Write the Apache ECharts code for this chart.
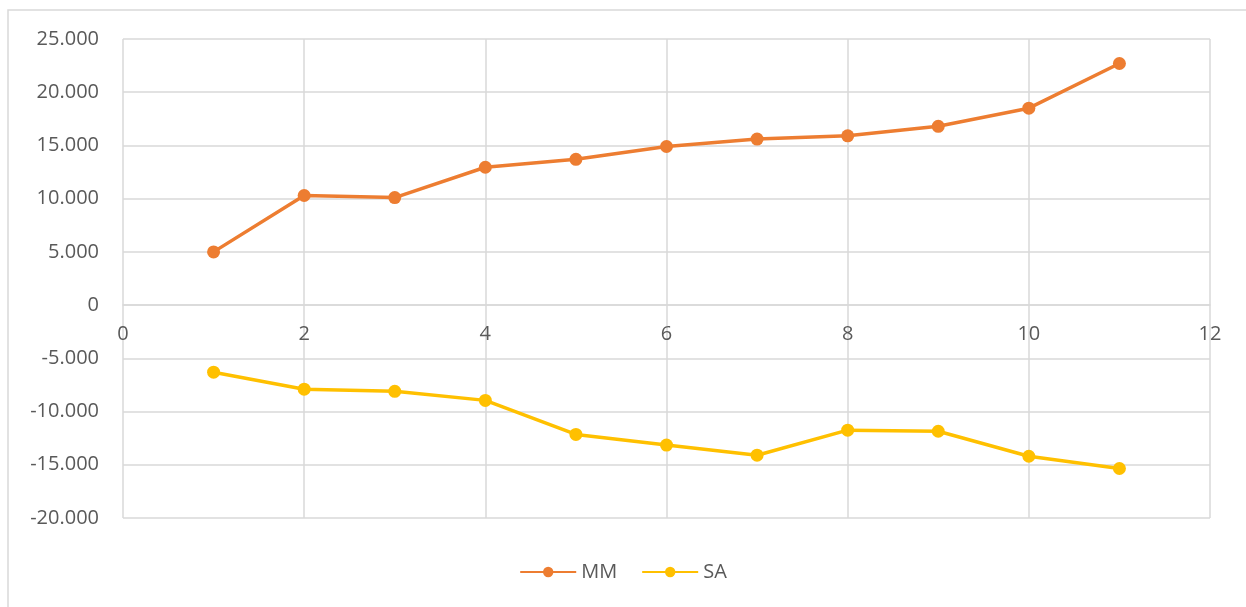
<!DOCTYPE html>
<html>
<head>
<meta charset="utf-8">
<style>
  html, body { margin: 0; padding: 0; background: #ffffff; }
  #chart { width: 1246px; height: 607px; }
</style>
<script src="https://cdn.jsdelivr.net/npm/echarts@6/dist/echarts.min.js"></script>
</head>
<body>
<div id="chart"></div>
<script>
// Period index (x) and the two series values
const periods = [1, 2, 3, 4, 5, 6, 7, 8, 9, 10, 11];
const mmValues = [5000, 10300, 10100, 12950, 13700, 14900, 15600, 15900, 16800, 18500, 22700];
const saValues = [-6300, -7900, -8100, -8950, -12150, -13150, -14100, -11750, -11850, -14200, -15350];
const seriesNames = ['MM', 'SA'];

const Y_MIN = -20000;
const chart = echarts.init(document.getElementById('chart'), null, { renderer: 'canvas' });

function thousands(v) {
  const s = Math.abs(v).toString().replace(/\B(?=(\d{3})+(?!\d))/g, '.');
  return (v < 0 ? '-' : '') + s;
}

const labelStyle = { color: '#595959', fontSize: 20, fontFamily: 'Open Sans, sans-serif' };
const gridLine = { lineStyle: { color: '#d9d9d9', width: 1.5 } };

chart.setOption({
  animation: false,
  backgroundColor: '#ffffff',
  graphic: [
    {
      type: 'rect',
      shape: { x: 8, y: 10, width: 1300, height: 700 },
      style: { fill: 'none', stroke: '#d9d9d9', lineWidth: 1.5 },
      silent: true
    }
  ],
  grid: { left: 123, right: 36, top: 39, bottom: 89, containLabel: false },
  legend: {
    data: seriesNames,
    bottom: 20,
    left: 'center',
    itemWidth: 56,
    itemHeight: 13,
    itemGap: 24,
    textStyle: { color: '#595959', fontSize: 20, fontFamily: 'Open Sans, sans-serif' }
  },
  xAxis: {
    type: 'value',
    min: 0,
    max: 12,
    interval: 2,
    position: 'bottom',
    axisLine: { show: true, onZero: false, lineStyle: { color: '#d9d9d9', width: 1.5 } },
    axisTick: { show: false },
    axisLabel: { ...labelStyle, margin: 19 },
    splitLine: { show: true, ...gridLine }
  },
  yAxis: {
    type: 'value',
    min: Y_MIN,
    max: 25000,
    interval: 5000,
    axisLine: { show: false, onZero: false },
    axisTick: { show: false },
    axisLabel: { ...labelStyle, margin: 24, formatter: thousands },
    splitLine: { show: true, ...gridLine }
  },
  series: [
    {
      name: seriesNames[0],
      type: 'line',
      data: periods.map((p, i) => [p, mmValues[i]]),
      symbol: 'circle',
      symbolSize: 13,
      lineStyle: { color: '#ED7D31', width: 3.5 },
      itemStyle: { color: '#ED7D31' }
    },
    {
      name: seriesNames[1],
      type: 'line',
      data: periods.map((p, i) => [p, saValues[i]]),
      symbol: 'circle',
      symbolSize: 13,
      lineStyle: { color: '#FFC000', width: 3.5 },
      itemStyle: { color: '#FFC000' }
    }
  ]
});

// Put the horizontal axis (line and labels) across the zero value of the vertical axis
const zeroY = chart.convertToPixel({ yAxisIndex: 0 }, 0);
const bottomY = chart.convertToPixel({ yAxisIndex: 0 }, Y_MIN);
chart.setOption({ xAxis: { offset: -(bottomY - zeroY) } });
</script>
</body>
</html>
